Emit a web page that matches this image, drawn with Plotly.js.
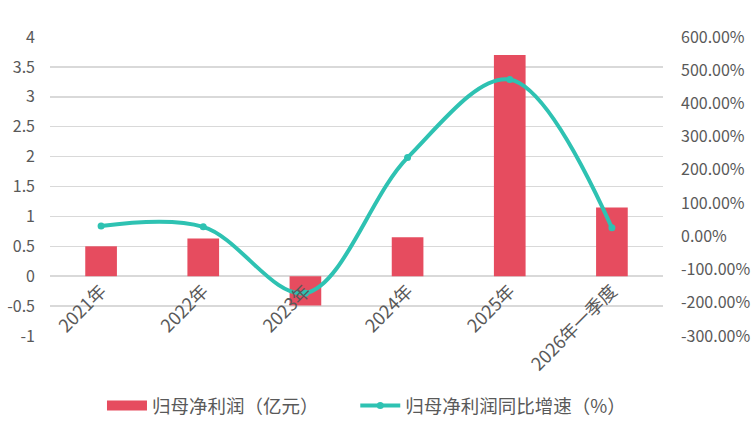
<!DOCTYPE html>
<html>
<head>
<meta charset="utf-8">
<script src="https://cdn.plot.ly/plotly-3.0.1.min.js"></script>
<style>html,body{margin:0;padding:0;background:#fff;}#chart{width:756px;height:434px;}</style>
</head>
<body>
<div id="chart"></div>
<script>
var categories = ["2021年", "2022年", "2023年", "2024年", "2025年", "2026年一季度"];
var netProfit = [0.5, 0.63, -0.49, 0.65, 3.7, 1.15];
var growthPct = [31, 28.5, -171, 237, 472, 25.7];
var seriesNames = ["归母净利润（亿元）", "归母净利润同比增速（%）"];
var leftTicks = [-1, -0.5, 0, 0.5, 1, 1.5, 2, 2.5, 3, 3.5, 4];
var rightTicks = [-300, -200, -100, 0, 100, 200, 300, 400, 500, 600];

var FONT = "Noto Sans CJK SC, sans-serif";
var TXT = "#595959";
var GRID = "#d9d9d9";
var RED = "#e64c5f";
var TEAL = "#2ec2b2";

var traces = [
  {
    type: "bar",
    x: categories,
    y: netProfit,
    name: seriesNames[0],
    marker: {color: RED},
    showlegend: false,
    yaxis: "y"
  },
  {
    /* legend-only swatch (wide rectangle, as in the reference legend) */
    type: "scatter",
    mode: "lines",
    x: [null],
    y: [null],
    name: seriesNames[0],
    line: {color: RED, width: 10},
    legend: "legend",
    showlegend: true,
    hoverinfo: "skip"
  },
  {
    type: "scatter",
    mode: "lines+markers",
    x: categories,
    y: growthPct,
    name: seriesNames[1],
    line: {color: TEAL, width: 4, shape: "spline", smoothing: 1},
    marker: {color: TEAL, size: 7},
    yaxis: "y2",
    legend: "legend2",
    showlegend: true
  }
];

var legendCommon = {
  orientation: "h",
  xanchor: "left",
  yref: "container",
  y: 0.0645,
  yanchor: "middle",
  font: {family: FONT, size: 18.5, color: TXT},
  itemwidth: 40,
  bgcolor: "rgba(0,0,0,0)"
};

var layout = {
  width: 756,
  height: 434,
  margin: {l: 50, r: 93, t: 37, b: 98, autoexpand: false},
  paper_bgcolor: "#fff",
  plot_bgcolor: "#fff",
  font: {family: FONT, color: TXT, size: 15},
  bargap: 0.69,
  xaxis: {
    type: "category",
    anchor: "free",
    position: 0.2,
    showline: false,
    showgrid: false,
    zeroline: false,
    ticks: "",
    tickangle: -45,
    tickfont: {family: FONT, size: 18, color: TXT}
  },
  yaxis: {
    range: [-1, 4],
    tickvals: leftTicks,
    ticktext: leftTicks.map(String),
    showgrid: true,
    gridcolor: GRID,
    gridwidth: 1.5,
    zeroline: true,
    zerolinecolor: GRID,
    zerolinewidth: 1.5,
    showline: false,
    ticks: "",
    ticklabelstandoff: 14,
    tickfont: {family: FONT, size: 16, color: TXT}
  },
  yaxis2: {
    overlaying: "y",
    side: "right",
    range: [-300, 600],
    tickvals: rightTicks,
    ticktext: rightTicks.map(function (v) { return v.toFixed(2) + "%"; }),
    showgrid: false,
    zeroline: false,
    showline: false,
    ticks: "",
    ticklabelstandoff: 17,
    tickfont: {family: FONT, size: 16, color: TXT}
  },
  legend: Object.assign({}, legendCommon, {x: 0.0848}),
  legend2: Object.assign({}, legendCommon, {x: 0.498})
};

Plotly.newPlot("chart", traces, layout, {displayModeBar: false, staticPlot: true});
</script>
</body>
</html>
